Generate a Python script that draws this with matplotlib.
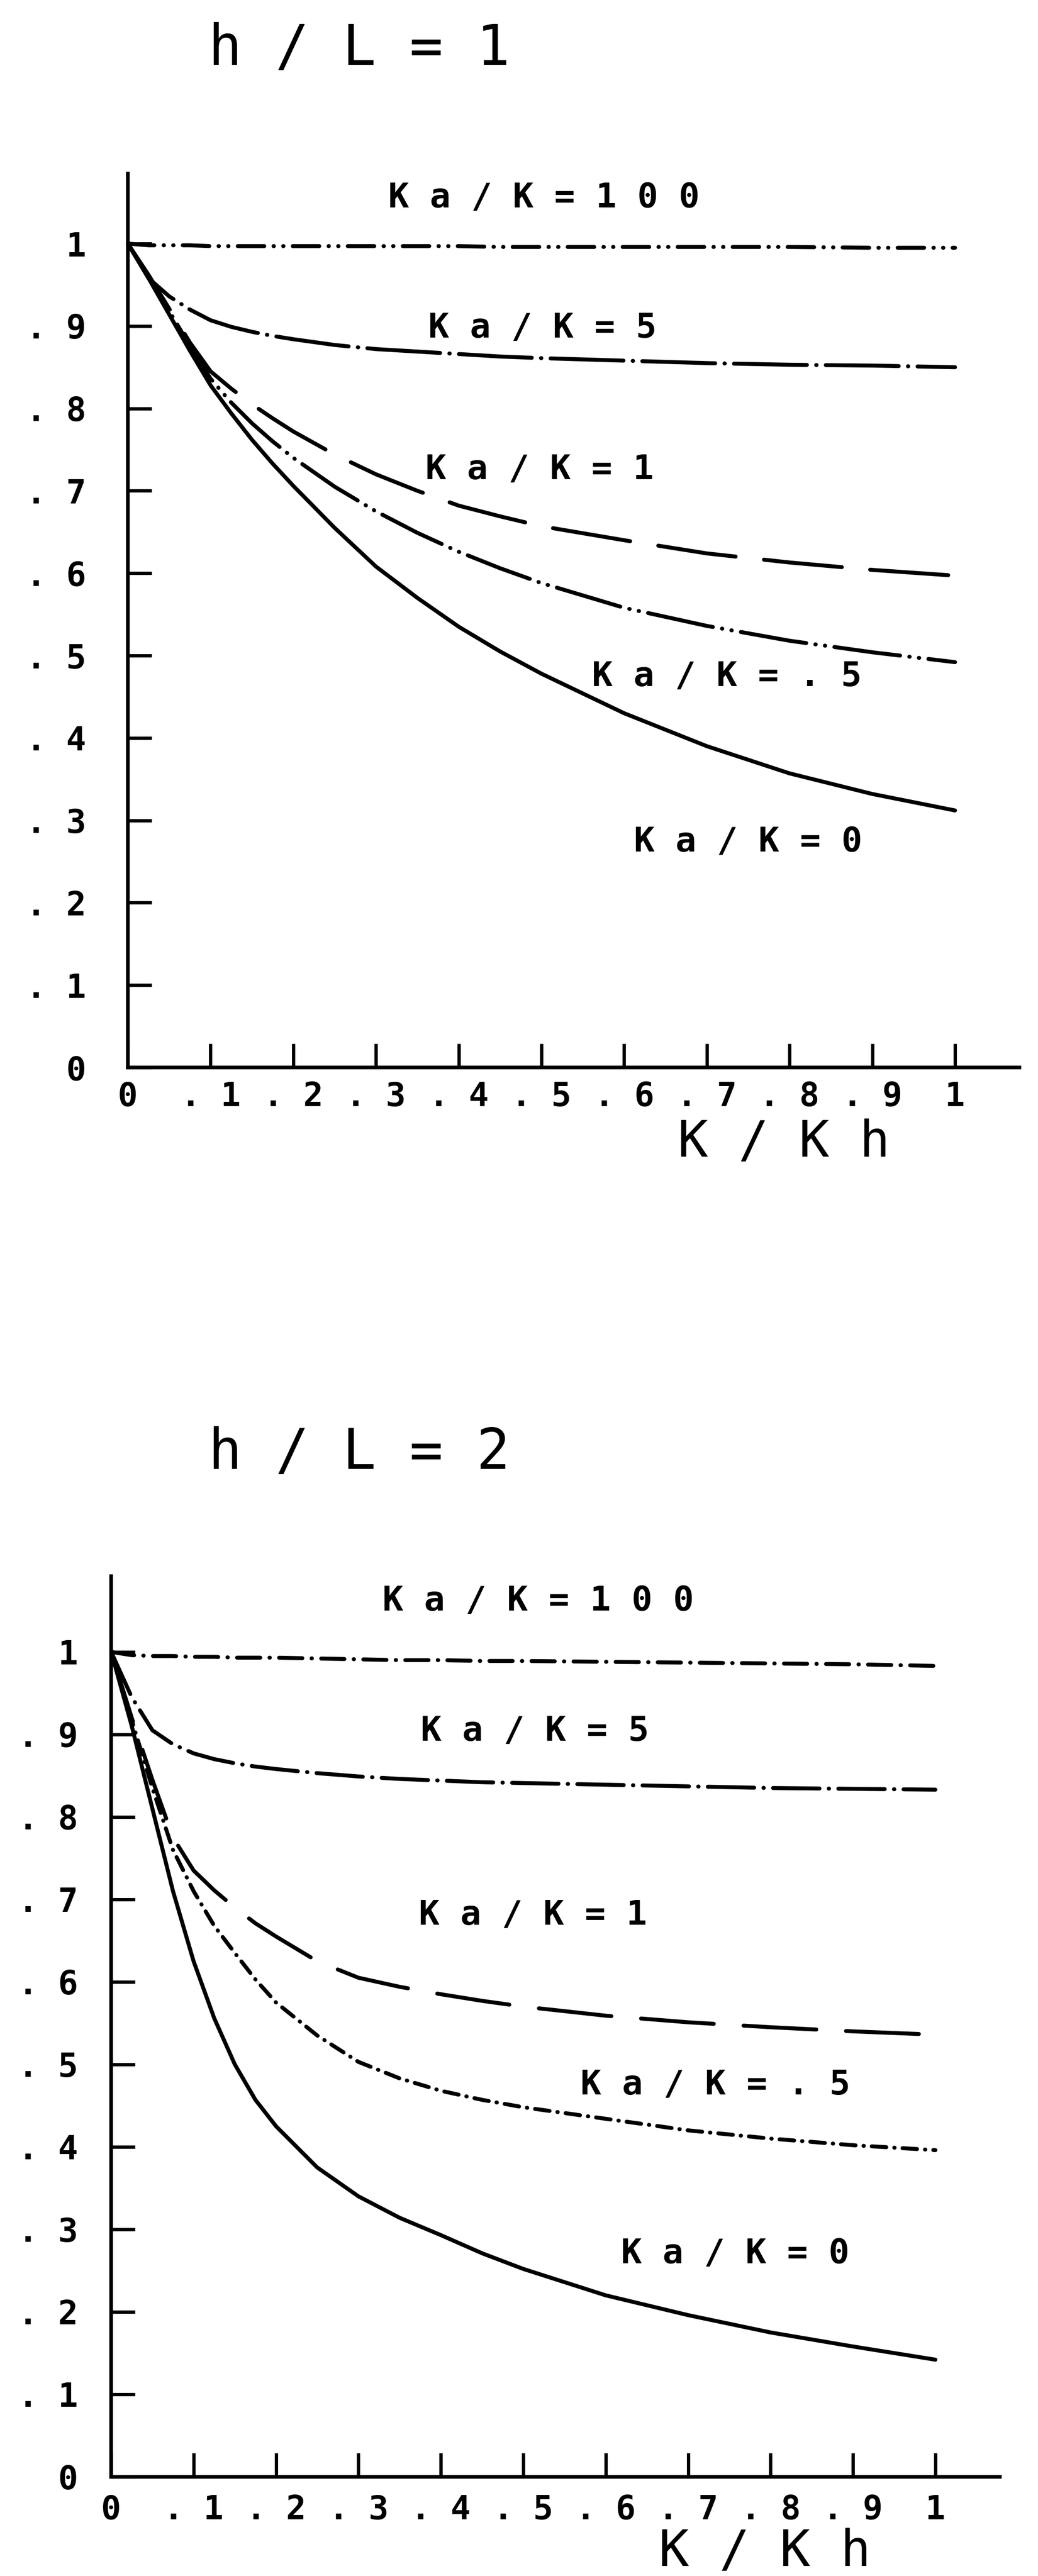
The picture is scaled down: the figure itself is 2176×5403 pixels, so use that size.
"""
Ratio curves against K/Kh for h/L = 1 and h/L = 2, one family of Ka/K values each,
laid out like an old pen-plotter figure (spaced monospace lettering, inward ticks).
"""
import matplotlib
matplotlib.use('Agg')
import matplotlib.pyplot as plt

plt.rcParams['lines.scale_dashes'] = False
plt.rcParams['font.family'] = ['DejaVu Sans Mono', 'DejaVu Sans']

# K/Kh sample points
k_ratio = [0, 0.025, 0.05, 0.075, 0.1, 0.125, 0.15, 0.175, 0.2, 0.25, 0.3,
           0.35, 0.4, 0.45, 0.5, 0.6, 0.7, 0.8, 0.9, 1.0]

# h/L = 1
hl1_ka100 = [1.000, 0.998, 0.998, 0.998, 0.997, 0.997, 0.997, 0.997, 0.997,
             0.997, 0.997, 0.997, 0.997, 0.996, 0.996, 0.996, 0.996, 0.996,
             0.995, 0.995]
hl1_ka5 = [1.000, 0.958, 0.936, 0.920, 0.907, 0.899, 0.893, 0.888, 0.884,
           0.877, 0.872, 0.869, 0.866, 0.863, 0.861, 0.858, 0.855, 0.853,
           0.852, 0.850]
hl1_ka1 = [1.000, 0.962, 0.921, 0.880, 0.845, 0.824, 0.805, 0.788, 0.772,
           0.744, 0.720, 0.700, 0.682, 0.669, 0.657, 0.640, 0.624, 0.613,
           0.604, 0.597]
hl1_ka05 = [1.000, 0.960, 0.918, 0.876, 0.836, 0.807, 0.782, 0.760, 0.740,
            0.705, 0.675, 0.649, 0.626, 0.606, 0.588, 0.558, 0.536, 0.518,
            0.504, 0.492]
hl1_ka0 = [1.000, 0.958, 0.914, 0.870, 0.828, 0.794, 0.762, 0.733, 0.706,
           0.655, 0.608, 0.570, 0.535, 0.505, 0.478, 0.430, 0.390, 0.357,
           0.332, 0.312]

# h/L = 2
hl2_ka100 = [1.000, 0.996, 0.995, 0.995, 0.994, 0.994, 0.993, 0.993, 0.993,
             0.992, 0.991, 0.990, 0.990, 0.989, 0.989, 0.988, 0.987, 0.986,
             0.985, 0.983]
hl2_ka5 = [1.000, 0.945, 0.905, 0.888, 0.877, 0.870, 0.865, 0.861, 0.858,
           0.853, 0.849, 0.846, 0.844, 0.842, 0.841, 0.839, 0.837, 0.835,
           0.834, 0.833]
hl2_ka1 = [1.000, 0.920, 0.845, 0.775, 0.735, 0.711, 0.690, 0.671, 0.655,
           0.625, 0.605, 0.594, 0.585, 0.577, 0.570, 0.559, 0.551, 0.545,
           0.540, 0.536]
hl2_ka05 = [1.000, 0.917, 0.835, 0.760, 0.710, 0.668, 0.635, 0.603, 0.575,
            0.535, 0.503, 0.483, 0.468, 0.457, 0.448, 0.434, 0.420, 0.410,
            0.402, 0.396]
hl2_ka0 = [1.000, 0.910, 0.810, 0.710, 0.625, 0.556, 0.500, 0.457, 0.425,
           0.375, 0.340, 0.314, 0.293, 0.271, 0.252, 0.220, 0.196, 0.175,
           0.158, 0.142]

curve_names = ['Ka/K=100', 'Ka/K=5', 'Ka/K=1', 'Ka/K=.5', 'Ka/K=0']

tick_values = [0, 0.1, 0.2, 0.3, 0.4, 0.5, 0.6, 0.7, 0.8, 0.9, 1.0]
tick_labels = ['0', '.1', '.2', '.3', '.4', '.5', '.6', '.7', '.8', '.9', '1']


def plotter_text(s):
    """Letter-space a string the way the plotter lettering does."""
    return ' '.join(s)


# per panel: curves, dash patterns (pt), label anchors (data coords, baseline)
panels = [
    {
        'title': 'h/L=1',
        'rect': [0.1232, 0.5856, 0.859, 0.347],
        'curves': [hl1_ka100, hl1_ka5, hl1_ka1, hl1_ka05, hl1_ka0],
        'dashes': [(40, 14, 0.5, 14, 0.5, 14), (110, 14, 0.5, 14), (118, 43),
                   (100, 14, 0.5, 14, 0.5, 14), None],
        'label_xy': [(0.503, 1.044), (0.501, 0.886), (0.498, 0.714),
                     (0.724, 0.463), (0.750, 0.262)],
        'title_xy': (0.280, 1.217),
        'xlabel_xy': (0.793, -0.108),
        'ylim': 1.085,
        'xpad': 20, 'ypad': 63,
    },
    {
        'title': 'h/L=2',
        'rect': [0.1071, 0.0385, 0.856, 0.3497],
        'curves': [hl2_ka100, hl2_ka5, hl2_ka1, hl2_ka05, hl2_ka0],
        'dashes': [(35, 14, 0.5, 14), (70, 14, 0.5, 14), (110, 45),
                   (22, 12, 0.5, 12), None],
        'label_xy': [(0.518, 1.050), (0.514, 0.8925), (0.512, 0.669),
                     (0.733, 0.4636), (0.757, 0.259)],
        'title_xy': (0.301, 1.222),
        'xlabel_xy': (0.793, -0.108),
        'ylim': 1.092,
        'xpad': 26, 'ypad': 50,
    },
]

fig = plt.figure(figsize=(21.76, 54.03), dpi=100)

for panel in panels:
    ax = fig.add_axes(panel['rect'])
    ax.set_xlim(0, 1.078)
    ax.set_ylim(0, panel['ylim'])

    for name, values, dash, (lx, ly) in zip(curve_names, panel['curves'],
                                             panel['dashes'], panel['label_xy']):
        if dash is None:
            ax.plot(k_ratio, values, color='black', linewidth=6,
                    solid_capstyle='round', solid_joinstyle='round',
                    clip_on=False)
        else:
            ax.plot(k_ratio, values, color='black', linewidth=6,
                    dashes=dash, dash_capstyle='round',
                    dash_joinstyle='round', clip_on=False)
        ax.text(lx, ly, plotter_text(name), ha='center', va='baseline',
                fontsize=52, fontweight='bold', color='black')

    # plotter style axes: two heavy lines, ticks pointing inward
    for side in ('top', 'right'):
        ax.spines[side].set_visible(False)
    for side in ('left', 'bottom'):
        ax.spines[side].set_linewidth(5.5)

    spaced = [plotter_text(t) for t in tick_labels]
    ax.set_xticks(tick_values)
    ax.set_xticklabels(spaced, fontsize=50, fontweight='bold')
    ax.set_yticks(tick_values)
    ax.set_yticklabels(spaced, fontsize=50, fontweight='bold')
    ax.tick_params(axis='both', direction='in', length=36, width=5)
    ax.tick_params(axis='x', pad=panel['xpad'])
    ax.tick_params(axis='y', pad=panel['ypad'])

    tx, ty = panel['title_xy']
    ax.text(tx, ty, plotter_text(panel['title']), ha='center', va='baseline',
            fontsize=84, color='black')
    xx, xy = panel['xlabel_xy']
    ax.text(xx, xy, plotter_text('K/Kh'), ha='center', va='baseline',
            fontsize=76, color='black')

fig.savefig('out.png', dpi=100)
